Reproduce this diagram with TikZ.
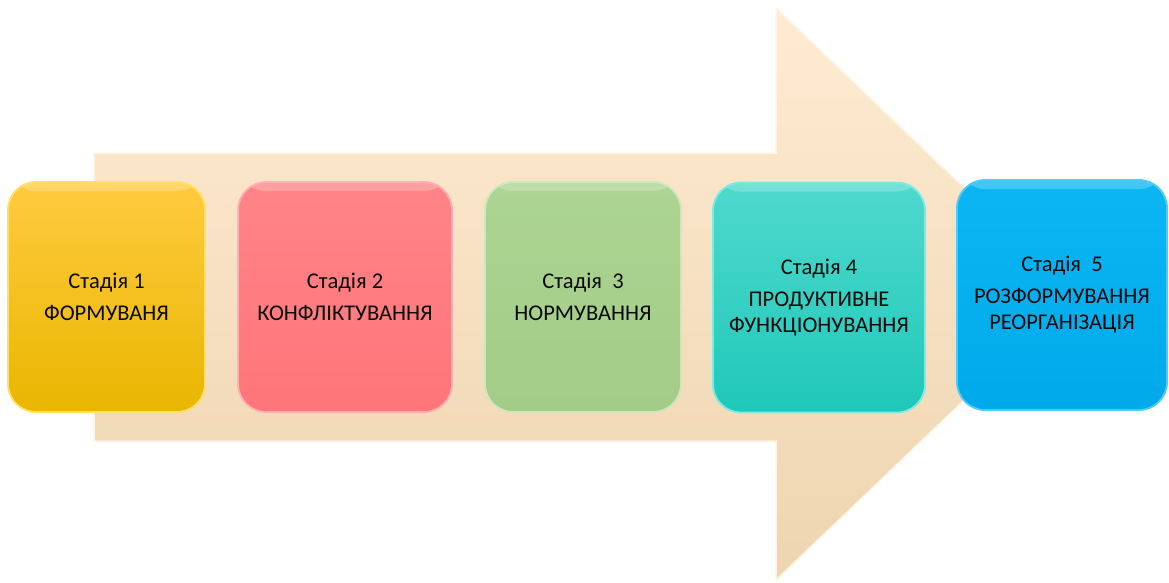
\documentclass[tikz,border=0pt]{standalone}
\usepackage{fontspec}
\setmainfont{Carlito}
\definecolor{arrowtop}{HTML}{FEEBD2}
\definecolor{arrowbot}{HTML}{EED5B0}
\definecolor{arrowrim}{HTML}{FFF4E4}
\definecolor{c1top}{HTML}{FFCB40}
\definecolor{c1bot}{HTML}{E9B600}
\definecolor{c1rim}{HTML}{FFE060}
\definecolor{c2top}{HTML}{FF8488}
\definecolor{c2bot}{HTML}{FF7579}
\definecolor{c2rim}{HTML}{FFB0B4}
\definecolor{c3top}{HTML}{ADD492}
\definecolor{c3bot}{HTML}{A3CC88}
\definecolor{c3rim}{HTML}{CDE8BA}
\definecolor{c4top}{HTML}{4FD9CD}
\definecolor{c4bot}{HTML}{1FC8BA}
\definecolor{c4rim}{HTML}{7DEBE3}
\definecolor{c5top}{HTML}{0CB6F3}
\definecolor{c5bot}{HTML}{00A9EA}
\definecolor{c5rim}{HTML}{4CCBF8}
\definecolor{txt}{HTML}{0A0A0A}
\tikzset{
  stagebox/.style={rectangle, rounded corners=28pt, line width=1.8pt,
    minimum height=230pt, align=center, text=txt,
    font=\fontsize{22.5}{26}\selectfont, inner sep=2pt,
    path picture={\fill[white,opacity=.22] (path picture bounding box.north west) rectangle ([yshift=-9pt]path picture bounding box.north east);}},
  bigarrow/.style={top color=arrowtop, bottom color=arrowbot, draw=arrowrim, line width=1.5pt, line join=miter}
}
\begin{document}
\begin{tikzpicture}[x=1pt,y=-1pt]
\useasboundingbox (0,0) rectangle (1169,582);
% background arrow
\path[bigarrow] (94,153) -- (776,153) -- (776,8) -- (1075,294) -- (776,580) -- (776,441) -- (94,441) -- cycle;
% stages
\node[stagebox, minimum width=197pt, top color=c1top, bottom color=c1bot, draw=c1rim] (b1) at (106.5,297) {Стадія 1\\[6pt]ФОРМУВАНЯ};
\node[stagebox, minimum width=214pt, top color=c2top, bottom color=c2bot, draw=c2rim] (b2) at (345,297) {Стадія 2\\[6pt]КОНФЛІКТУВАННЯ};
\node[stagebox, minimum width=196pt, top color=c3top, bottom color=c3bot, draw=c3rim] (b3) at (583,297) {Стадія\ \ 3\\[6pt]НОРМУВАННЯ};
\node[stagebox, minimum width=212pt, top color=c4top, bottom color=c4bot, draw=c4rim] (b4) at (819,297.5) {Стадія 4\\[6pt]ПРОДУКТИВНЕ\\ФУНКЦІОНУВАННЯ};
\node[stagebox, minimum width=210pt, top color=c5top, bottom color=c5bot, draw=c5rim] (b5) at (1062,295) {Стадія\ \ 5\\[6pt]РОЗФОРМУВАННЯ\\РЕОРГАНІЗАЦІЯ};
\end{tikzpicture}
\end{document}
